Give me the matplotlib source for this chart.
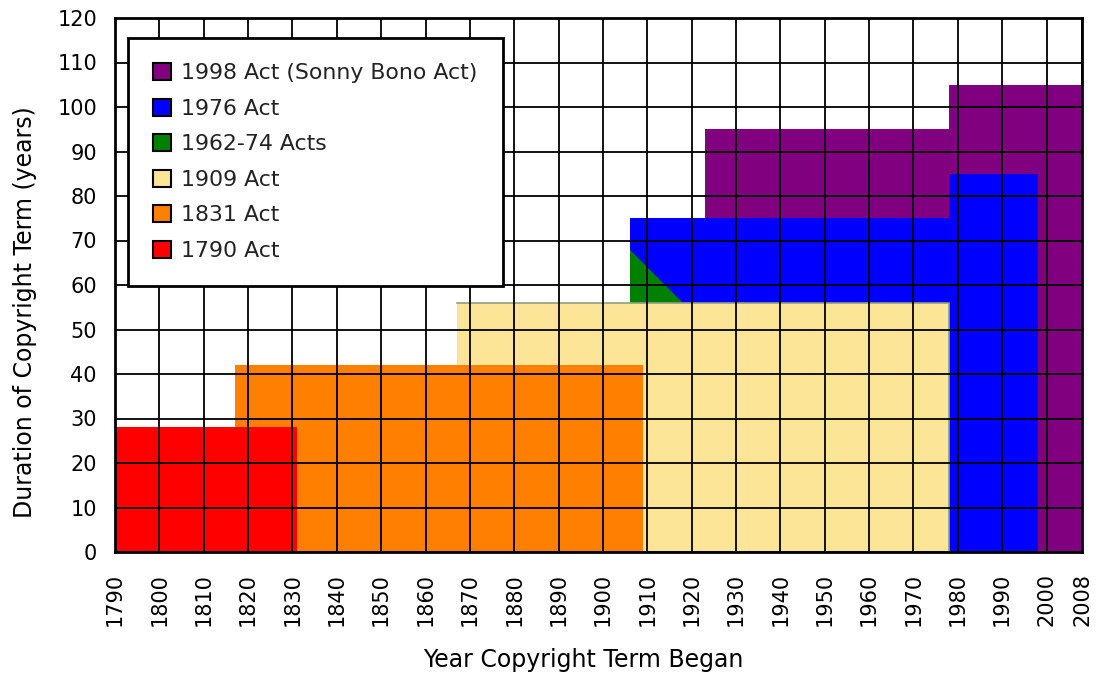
import matplotlib
matplotlib.use("Agg")
import matplotlib.pyplot as plt
from matplotlib.patches import Patch

# step data: term length (years) by year the term began, one block per act
red_edges = [1790, 1831]
red_term = [28]
orange_edges = [1817, 1909]
orange_term = [42]
yellow_edges = [1867, 1978]
yellow_term = [56]
green_x = [1906, 1918]
green_top = [68, 56]
green_base = 56
blue_edges = [1906, 1978, 1998]
blue_term = [75, 85]
purple_edges = [1923, 1978, 2008]
purple_term = [95, 105]

legend_labels = ["1998 Act (Sonny Bono Act)", "1976 Act", "1962-74 Acts",
                 "1909 Act", "1831 Act", "1790 Act"]
legend_colors = ["#800080", "#0000ff", "#008000", "#fde597", "#ff8000", "#ff0000"]

xticks = list(range(1790, 2001, 10)) + [2008]
yticks = list(range(0, 121, 10))

fig = plt.figure(figsize=(10.99, 6.75), dpi=100)
ax = fig.add_axes([115 / 1099, 1 - 552 / 675, 967 / 1099, 534 / 675])

# later acts sit underneath, earlier ones drawn over them
ax.stairs(purple_term, purple_edges, baseline=0, fill=True, color="#800080", zorder=1)
ax.stairs(blue_term, blue_edges, baseline=0, fill=True, color="#0000ff", zorder=1.2)
ax.fill_between(green_x, green_top, green_base, color="#008000", lw=0, zorder=1.4)
ax.stairs(yellow_term, yellow_edges, baseline=0, fill=True, color="#fde597", zorder=1.6)
# thin grey edge along the top and right of the 1909 block
ax.plot([yellow_edges[0], yellow_edges[1], yellow_edges[1]],
        [yellow_term[0], yellow_term[0], 0], color="#8f9f80", lw=1.2, zorder=1.65)
ax.stairs(orange_term, orange_edges, baseline=0, fill=True, color="#ff8000", zorder=1.8)
ax.stairs(red_term, red_edges, baseline=0, fill=True, color="#ff0000", zorder=2)

ax.set_xlim(1790, 2008)
ax.set_ylim(0, 120)
ax.set_xticks(xticks)
ax.set_yticks(yticks)
ax.tick_params(axis="x", length=0, pad=15, labelsize=15, labelrotation=90)
ax.tick_params(axis="y", length=0, pad=13, labelsize=15)
ax.set_axisbelow(False)
ax.grid(True, color="black", lw=1.3)
ax.xaxis.set_zorder(10)
ax.yaxis.set_zorder(10)
for sp in ax.spines.values():
    sp.set_linewidth(2)
    sp.set_zorder(11)

ax.set_xlabel("Year Copyright Term Began", fontsize=17)
ax.set_ylabel("Duration of Copyright Term (years)", fontsize=17)
ax.xaxis.set_label_coords(0.484, -0.202)
ax.yaxis.set_label_coords(-0.093, 0.449)
ax.xaxis.label.set_va("center")
ax.yaxis.label.set_va("center")

handles = [Patch(facecolor=c, edgecolor="black", lw=1.5) for c in legend_colors]
leg = ax.legend(handles, legend_labels, loc="upper left",
                bbox_to_anchor=(0.0134, 0.9625), borderaxespad=0,
                fontsize=15.8, frameon=True, fancybox=False, framealpha=1,
                edgecolor="black", borderpad=1.15, labelspacing=0.7,
                handlelength=0.82, handleheight=0.82, handletextpad=0.45)
leg.get_frame().set_linewidth(2)
leg.set_zorder(20)
for t in leg.get_texts():
    t.set_color("#222222")

fig.savefig("out.png", dpi=100)
